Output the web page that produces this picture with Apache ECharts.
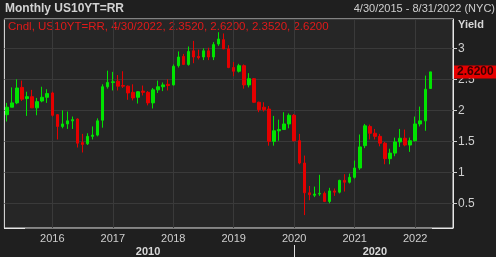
<!DOCTYPE html>
<html><head><meta charset="utf-8">
<script src="https://cdn.jsdelivr.net/npm/echarts@6/dist/echarts.min.js"></script>
<style>html,body{margin:0;padding:0;background:#1f1f1f;}#c{width:496px;height:257px;}</style>
</head><body><div id="c"></div>
<script>
// Monthly categories Apr 2015 .. Aug 2022
var startYear = 2015, startMonth = 4, monthCount = 89;
var categories = [];
for (var k = 0; k < monthCount; k++) {
  var m = (startMonth - 1 + k) % 12 + 1, y = startYear + Math.floor((startMonth - 1 + k) / 12);
  categories.push(y + '-' + (m < 10 ? '0' + m : m));
}
var opens = [1.93,2.05,2.12,2.37,2.19,2.22,2.04,2.15,2.21,2.28,1.93,1.74,1.78,1.83,1.86,1.48,1.46,1.58,1.60,1.84,2.38,2.45,2.47,2.40,2.39,2.29,2.21,2.31,2.29,2.12,2.33,2.38,2.42,2.41,2.72,2.87,2.74,2.96,2.87,2.86,2.96,2.86,3.07,3.14,2.99,2.69,2.63,2.72,2.41,2.51,2.13,2.05,2.02,1.50,1.67,1.69,1.78,1.92,1.51,1.15,0.67,0.63,0.65,0.66,0.53,0.70,0.68,0.87,0.84,0.92,1.07,1.43,1.74,1.63,1.58,1.47,1.22,1.31,1.49,1.55,1.44,1.51,1.78,1.83,2.352];
var closes = [2.05,2.12,2.36,2.18,2.22,2.04,2.14,2.21,2.27,1.92,1.74,1.78,1.83,1.85,1.47,1.45,1.58,1.60,1.83,2.38,2.45,2.46,2.39,2.39,2.28,2.20,2.30,2.29,2.12,2.33,2.38,2.41,2.40,2.71,2.86,2.74,2.95,2.86,2.85,2.96,2.86,3.06,3.15,2.99,2.69,2.63,2.72,2.41,2.51,2.13,2.01,2.01,1.50,1.67,1.69,1.78,1.92,1.51,1.15,0.67,0.64,0.65,0.66,0.53,0.70,0.68,0.87,0.84,0.92,1.07,1.41,1.75,1.63,1.58,1.47,1.22,1.31,1.49,1.55,1.44,1.51,1.78,1.83,2.34,2.62];
var lows = [1.82,2.05,2.10,2.15,1.91,2.04,1.92,2.13,2.12,1.90,1.53,1.71,1.70,1.70,1.40,1.32,1.44,1.53,1.58,1.72,2.35,2.32,2.32,2.36,2.17,2.16,2.11,2.24,2.08,2.03,2.28,2.31,2.32,2.40,2.69,2.73,2.72,2.76,2.82,2.81,2.81,2.81,3.04,2.99,2.68,2.55,2.61,2.35,2.37,2.12,1.97,1.98,1.43,1.43,1.51,1.69,1.71,1.50,1.13,0.31,0.55,0.60,0.62,0.52,0.50,0.62,0.66,0.69,0.82,0.90,1.04,1.39,1.53,1.53,1.42,1.13,1.13,1.26,1.41,1.42,1.33,1.50,1.74,1.67,2.352];
var highs = [2.12,2.37,2.50,2.48,2.30,2.33,2.20,2.38,2.34,2.30,1.94,2.00,1.98,1.90,1.87,1.62,1.63,1.74,1.87,2.42,2.64,2.62,2.57,2.63,2.40,2.42,2.31,2.40,2.31,2.36,2.48,2.45,2.50,2.74,2.95,2.91,3.03,3.12,2.98,3.00,3.01,3.10,3.26,3.24,3.05,2.78,2.75,2.74,2.60,2.52,2.14,2.13,2.07,1.91,1.85,1.97,1.95,1.94,1.62,1.27,0.78,0.77,0.96,0.69,0.75,0.74,0.88,0.97,0.98,1.19,1.61,1.78,1.77,1.70,1.62,1.49,1.38,1.56,1.70,1.69,1.56,1.90,2.06,2.56,2.62];
var yTicks = ['0.5','1','1.5','2','2.5','3'];
var lastPrice = 2.62;
var decadeLabels = {'2017-08': '2010', '2021-05': '2020'};
var decadeSplit = '2020-01';

var candleData = categories.map(function (c, i) {
  return i < opens.length ? [opens[i], closes[i], lows[i], highs[i]] : '-';
});
function isJan(idx) { return categories[idx].slice(5) === '01'; }

var chart = echarts.init(document.getElementById('c'), null, {renderer: 'canvas'});
var FONT = '"Liberation Sans", Arial, sans-serif';
chart.setOption({
  animation: false,
  backgroundColor: '#1f1f1f',
  textStyle: {fontFamily: FONT},
  grid: {left: 4.4, right: 43, top: 19, bottom: 29, show: true, backgroundColor: '#262626', borderColor: '#e6e6e6', borderWidth: 1},
  xAxis: [{
    type: 'category', data: categories, boundaryGap: true,
    axisLine: {lineStyle: {color: '#7c7c7c', width: 1}},
    axisTick: {alignWithLabel: true, interval: isJan, length: 3, lineStyle: {color: '#e0e0e0'}},
    axisLabel: {interval: isJan, formatter: function (v) { return v.slice(0, 4); }, color: '#cfcfcf', fontSize: 11, margin: 5, fontFamily: FONT},
    splitLine: {show: true, alignWithLabel: true, interval: isJan, lineStyle: {color: '#3a3a3a', width: 1}}
  }, {
    type: 'category', data: categories, boundaryGap: true, position: 'bottom', offset: 17,
    axisLine: {show: false},
    axisTick: {show: true, alignWithLabel: true, interval: function (idx) { return categories[idx] === decadeSplit; }, length: 12, lineStyle: {color: '#e0e0e0'}},
    axisLabel: {interval: function (idx) { return !!decadeLabels[categories[idx]]; }, formatter: function (v) { return decadeLabels[v] || ''; }, color: '#d8d8d8', fontSize: 11, fontWeight: 'bold', margin: 1, fontFamily: FONT},
    splitLine: {show: false}
  }],
  yAxis: {
    type: 'value', position: 'right', min: 0.102, max: 3.473, splitNumber: 6, scale: true,
    axisLine: {show: true, lineStyle: {color: '#e6e6e6'}},
    axisTick: {show: true, length: 4, lineStyle: {color: '#d0d0d0'}},
    axisLabel: {showMinLabel: false, showMaxLabel: false, color: '#cfcfcf', fontSize: 12, margin: 5, fontFamily: FONT},
    splitLine: {show: true, lineStyle: {color: '#3a3a3a'}}
  },
  series: [{
    type: 'candlestick', data: candleData, barWidth: 3, zlevel: 1,
    itemStyle: {color: '#00e400', color0: '#e40000', borderColor: '#00e400', borderColor0: '#e40000', borderWidth: 1},
    markLine: {
      silent: true, symbol: 'none', animation: false,
      lineStyle: {color: 'rgba(0,0,0,0)', width: 0},
      label: {show: true, position: 'end', distance: 1, formatter: lastPrice.toFixed(4), backgroundColor: '#e60000', color: '#3a0000', fontSize: 12, fontWeight: 'bold', padding: [1, 3, 0, 3], fontFamily: FONT},
      emphasis: {disabled: true},
      data: [{yAxis: lastPrice}]
    }
  }],
  graphic: [
    {type: 'text', left: 5, top: 3, style: {text: 'Monthly US10YT=RR', fill: '#d2d2d2', font: 'bold 12px ' + FONT}},
    {type: 'text', right: 1, top: 3, style: {text: '4/30/2015 - 8/31/2022 (NYC)', fill: '#cfcfcf', font: '11px ' + FONT}},
    {type: 'text', left: 8, top: 21, style: {text: 'Cndl, US10YT=RR, 4/30/2022, 2.3520, 2.6200, 2.3520, 2.6200', fill: '#e01a1a', font: '11.5px ' + FONT}},
    {type: 'text', left: 458, top: 19, style: {text: 'Yield', fill: '#d8d8d8', font: 'bold 11px ' + FONT}},
    {type: 'line', shape: {x1: 4, y1: 228.5, x2: 25, y2: 228.5}, style: {stroke: '#e6e6e6', lineWidth: 1}, z: 100},
    {type: 'line', shape: {x1: 432, y1: 228.5, x2: 453, y2: 228.5}, style: {stroke: '#e6e6e6', lineWidth: 1}, z: 100}
  ]
});
</script></body></html>
